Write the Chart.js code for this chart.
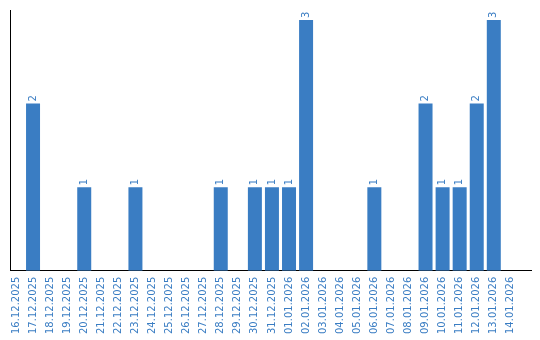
<!DOCTYPE html>
<html>
<head>
<meta charset="utf-8">
<script src="https://cdn.jsdelivr.net/npm/chart.js@4/dist/chart.umd.min.js"></script>
<style>
    html, body { margin: 0; padding: 0; background: #ffffff; }
    #wrap { width: 540px; height: 340px; }
</style>
</head>
<body>
<div id="wrap"><canvas id="chart"></canvas></div>
<script>
// Daily counts, 16.12.2025 - 14.01.2026
const dates = [
    '16.12.2025', '17.12.2025', '18.12.2025', '19.12.2025', '20.12.2025',
    '21.12.2025', '22.12.2025', '23.12.2025', '24.12.2025', '25.12.2025',
    '26.12.2025', '27.12.2025', '28.12.2025', '29.12.2025', '30.12.2025',
    '31.12.2025', '01.01.2026', '02.01.2026', '03.01.2026', '04.01.2026',
    '05.01.2026', '06.01.2026', '07.01.2026', '08.01.2026', '09.01.2026',
    '10.01.2026', '11.01.2026', '12.01.2026', '13.01.2026', '14.01.2026',
];
const counts = [
    0, 2, 0, 0, 1,
    0, 0, 1, 0, 0,
    0, 0, 1, 0, 1,
    1, 1, 3, 0, 0,
    0, 1, 0, 0, 2,
    1, 1, 2, 3, 0,
];

const BLUE = '#3a7dc3';
const FONT = 'DejaVu Sans';

// Draw the value above each bar, rotated like the tick labels
const valueLabels = {
    id: 'valueLabels',
    afterDatasetsDraw(chart) {
        const ctx = chart.ctx;
        const meta = chart.getDatasetMeta(0);
        ctx.save();
        ctx.fillStyle = BLUE;
        ctx.font = `10px ${FONT}`;
        ctx.textAlign = 'left';
        ctx.textBaseline = 'middle';
        meta.data.forEach((bar, i) => {
            if (!counts[i]) return;
            ctx.save();
            ctx.translate(bar.x, bar.y - 2);
            ctx.rotate(-Math.PI / 2);
            ctx.fillText(String(counts[i]), 0, 0);
            ctx.restore();
        });
        ctx.restore();
    },
};

new Chart(document.getElementById('chart'), {
    type: 'bar',
    data: {
        datasets: [
            {
                data: counts.map((v, i) => ({ x: i, y: v })),
                backgroundColor: BLUE,
                borderWidth: 0,
                barPercentage: 0.82,
                categoryPercentage: 1,
            },
        ],
    },
    options: {
        responsive: true,
        maintainAspectRatio: false,
        animation: false,
        layout: {
            padding: { left: 10, right: 9, top: 10, bottom: 0 },
        },
        plugins: {
            legend: { display: false },
            tooltip: { enabled: false },
        },
        scales: {
            x: {
                type: 'linear',
                min: -0.35,
                max: 30.18,
                offset: false,
                grid: { display: false, drawTicks: false },
                border: { display: true, color: '#000000', width: 1 },
                // one tick per date only, nothing past the last day
                afterBuildTicks: (axis) => {
                    axis.ticks = axis.ticks.filter(t => t.value >= 0 && t.value < dates.length);
                },
                ticks: {
                    stepSize: 1,
                    maxTicksLimit: 40,
                    includeBounds: false,
                    color: BLUE,
                    font: { family: FONT, size: 10 },
                    minRotation: 90,
                    maxRotation: 90,
                    autoSkip: false,
                    padding: 6,
                    callback: (value) => dates[value] ?? '',
                },
            },
            y: {
                min: 0,
                max: 3.12,
                grid: { display: false, drawTicks: false },
                border: { display: true, color: '#000000', width: 1 },
                ticks: { display: false },
            },
        },
    },
    plugins: [valueLabels],
});
</script>
</body>
</html>
